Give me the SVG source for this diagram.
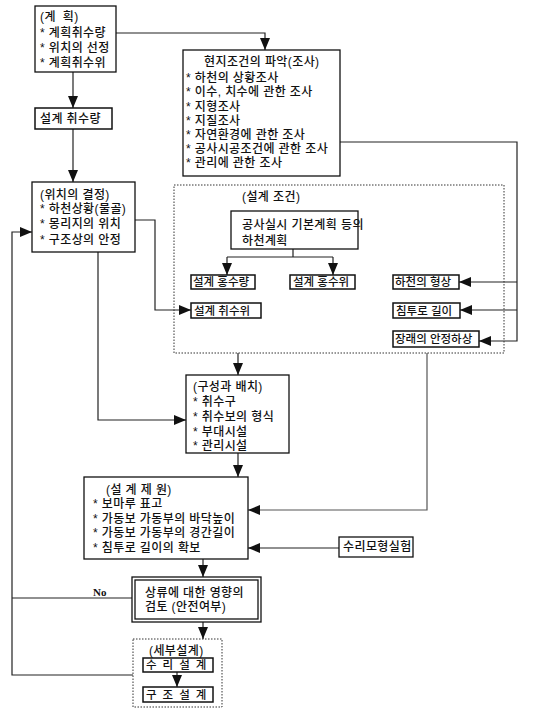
<svg xmlns="http://www.w3.org/2000/svg" width="537" height="715" viewBox="0 0 537 715">
<style>
text{font-family:"Liberation Sans","Noto Sans CJK KR",sans-serif;font-size:12px;font-weight:500;fill:#111;letter-spacing:0.4px}
text.s{font-size:11.5px;letter-spacing:0}
text.w{font-size:11.5px;letter-spacing:6px}
.box{fill:#fff;stroke:#111;stroke-width:1.3}
.sbox{fill:#fff;stroke:#111;stroke-width:1.5}
.dot{fill:none;stroke:#333;stroke-width:1;stroke-dasharray:1.5 1.5}
.ln{fill:none;stroke:#222;stroke-width:1.2}
.lg{fill:none;stroke:#555;stroke-width:1.2}
text.no{font-family:"Liberation Serif",serif;font-weight:bold;font-size:11px;letter-spacing:0}
</style>
<defs>
<marker id="ah" viewBox="0 0 12 10" refX="12" refY="5" markerWidth="12" markerHeight="10" markerUnits="userSpaceOnUse" orient="auto">
<path d="M0,0 L12,5 L0,10 z" fill="#111"/>
</marker>
</defs>
<rect width="537" height="715" fill="#fff"/>

<g id="connectors">
<path class="ln" d="M116,33 H265 V50" marker-end="url(#ah)"/>
<path class="ln" d="M73,72 V108" marker-end="url(#ah)"/>
<path class="ln" d="M73,129 V182" marker-end="url(#ah)"/>
<path class="ln" d="M135,220 H155 V310 H191" marker-end="url(#ah)"/>
<path class="ln" d="M98,252 V420 H186" marker-end="url(#ah)"/>
<path class="ln" d="M340,142 H517 V341 H479" marker-end="url(#ah)"/>
<path class="ln" d="M517,282 H459" marker-end="url(#ah)"/>
<path class="ln" d="M517,310 H460" marker-end="url(#ah)"/>
<path class="ln" d="M293,249 V257 M227,257 H333"/>
<path class="ln" d="M227,257 V275" marker-end="url(#ah)"/>
<path class="ln" d="M333,257 V275" marker-end="url(#ah)"/>
<path class="ln" d="M238,353 V375" marker-end="url(#ah)"/>
<path class="lg" d="M427,353 V510 H248" marker-end="url(#ah)"/>
<path class="ln" d="M238,453 V477" marker-end="url(#ah)"/>
<path class="ln" d="M339,548 H248" marker-end="url(#ah)"/>
<path class="ln" d="M203,559 V577" marker-end="url(#ah)"/>
<path class="ln" d="M203,622 V639" marker-end="url(#ah)"/>
<path class="ln" d="M133,675 H12 V232 H32" marker-end="url(#ah)"/>
<path class="ln" d="M132,598 H12"/>
<path class="ln" d="M177,672 V687" marker-end="url(#ah)"/>
<text class="no" x="93" y="596">No</text>
</g>

<g id="plan">
<rect class="box" x="35" y="6" width="81" height="66"/>
<text x="40" y="21">(계<tspan dx="7">획)</tspan></text>
<text x="40" y="37">* 계획취수량</text>
<text x="40" y="52">* 위치의 선정</text>
<text x="40" y="67">* 계획취수위</text>
</g>

<g id="design-intake">
<rect class="sbox" x="35" y="108" width="77" height="21"/>
<text x="40" y="123">설계 취수량</text>
</g>

<g id="survey">
<rect class="box" x="183" y="50" width="157" height="126"/>
<text x="204" y="66">현지조건의 파악(조사)</text>
<text x="186" y="82">* 하천의 상황조사</text>
<text x="186" y="96">* 이수, 치수에 관한 조사</text>
<text x="186" y="111">* 지형조사</text>
<text x="186" y="125">* 지질조사</text>
<text x="186" y="139">* 자연환경에 관한 조사</text>
<text x="186" y="153">* 공사시공조건에 관한 조사</text>
<text x="186" y="167">* 관리에 관한 조사</text>
</g>

<g id="location">
<rect class="box" x="32" y="182" width="103" height="70"/>
<text x="40" y="199">(위치의 결정)</text>
<text x="40" y="213">* 하천상황(물골)</text>
<text x="40" y="228">* 몽리지의 위치</text>
<text x="40" y="244">* 구조상의 안정</text>
</g>

<g id="design-conditions">
<rect class="dot" x="174" y="185" width="330" height="168"/>
<text x="242" y="201">(설계 조건)</text>
</g>

<g id="river-plan">
<rect class="box" x="231" y="211" width="127" height="38"/>
<text x="242" y="229">공사실시 기본계획 등의</text>
<text x="242" y="245">하천계획</text>
</g>

<g id="flood-discharge">
<rect class="sbox" x="191" y="275" width="64" height="14"/>
<text class="s" x="193" y="286">설계 홍수량</text>
</g>

<g id="flood-level">
<rect class="sbox" x="290" y="275" width="65" height="14"/>
<text class="s" x="293" y="286">설계 홍수위</text>
</g>

<g id="intake-level">
<rect class="sbox" x="191" y="303" width="70" height="15"/>
<text class="s" x="194" y="315">설계 취수위</text>
</g>

<g id="river-shape">
<rect class="sbox" x="393" y="275" width="66" height="14"/>
<text class="s" x="395" y="286">하천의 형상</text>
</g>

<g id="seepage">
<rect class="sbox" x="393" y="303" width="67" height="15"/>
<text class="s" x="396" y="315">침투로 길이</text>
</g>

<g id="future-bed">
<rect class="sbox" x="393" y="331" width="86" height="16"/>
<text class="s" x="395" y="343">장래의 안정하상</text>
</g>

<g id="layout">
<rect class="box" x="186" y="375" width="103" height="78"/>
<text x="193" y="391">(구성과 배치)</text>
<text x="193" y="406">* 취수구</text>
<text x="193" y="421">* 취수보의 형식</text>
<text x="193" y="436">* 부대시설</text>
<text x="193" y="450">* 관리시설</text>
</g>

<g id="specs">
<rect class="box" x="84" y="477" width="164" height="82"/>
<text x="106" y="494">(설 계 제 원)</text>
<text x="93" y="508">* 보마루 표고</text>
<text x="93" y="523">* 가동보 가동부의 바닥높이</text>
<text x="93" y="537">* 가동보 가동부의 경간길이</text>
<text x="93" y="552">* 침투로 길이의 확보</text>
</g>

<g id="model-test">
<rect class="box" x="339" y="537" width="74" height="20"/>
<text x="343" y="551">수리모형실험</text>
</g>

<g id="review">
<rect class="box" x="132" y="577" width="129" height="45"/>
<rect class="box" x="135" y="580" width="123" height="39"/>
<text x="145" y="597">상류에 대한 영향의</text>
<text x="145" y="611">검토 (안전여부)</text>
</g>

<g id="detail-design">
<rect class="dot" x="133" y="639" width="89" height="68"/>
<text x="149" y="655">(세부설계)</text>
</g>

<g id="hydraulic-design">
<rect class="sbox" x="143" y="658" width="70" height="14"/>
<text class="w" x="146" y="669">수리설계</text>
</g>

<g id="structural-design">
<rect class="sbox" x="143" y="687" width="70" height="15"/>
<text class="w" x="146" y="699">구조설계</text>
</g>
</svg>
